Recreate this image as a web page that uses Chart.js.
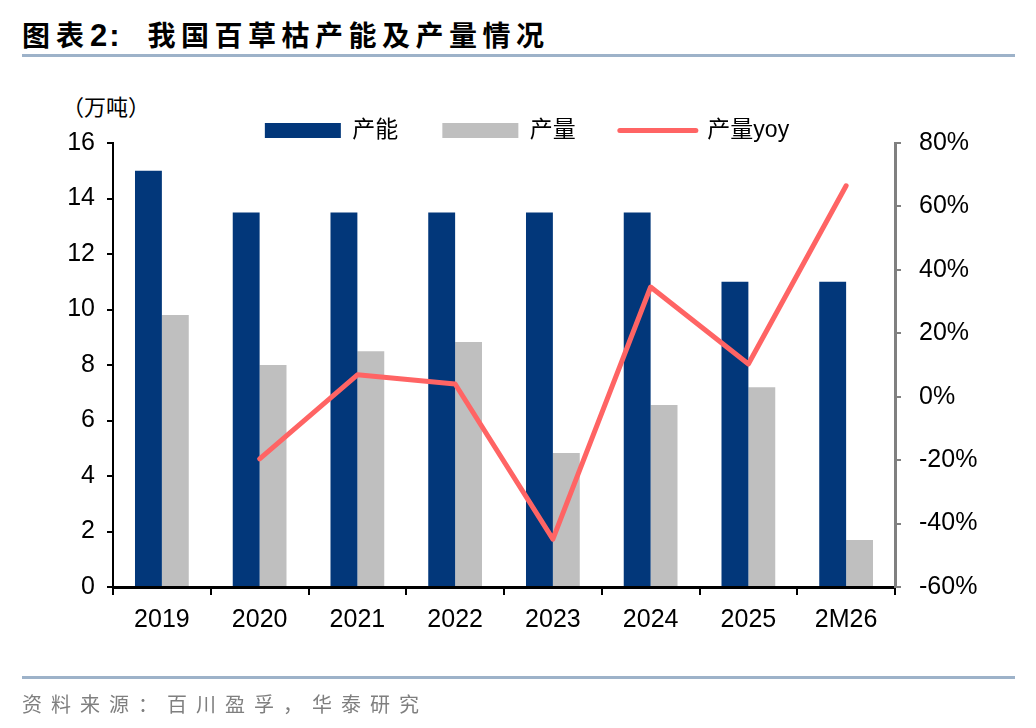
<!DOCTYPE html>
<html>
<head>
<meta charset="utf-8">
<script src="https://cdn.jsdelivr.net/npm/chart.js@4"></script>
<style>
  body { margin: 0; background: #fff; width: 1036px; height: 728px; position: relative; overflow: hidden;
         font-family: 'Liberation Sans', 'Noto Sans CJK SC', sans-serif; }
  #title { position: absolute; left: 22px; top: 14px; font-size: 28px; font-weight: bold; color: #000; white-space: pre; }
  #title .lead { letter-spacing: 6px; }
  #title .num { font-size: 31px; letter-spacing: 2px; }
  #title .main { letter-spacing: 5.5px; margin-left: 26px; }
  .rule { position: absolute; left: 22px; width: 993px; height: 3px; background: #9db2c9; }
  #unit { position: absolute; left: 62px; top: 89px; font-size: 22px; color: #000; }
  #source { position: absolute; left: 22px; top: 689px; font-size: 20px; color: #7f7f7f; letter-spacing: 9px; }
  #cpuChart { position: absolute; left: 0; top: 0; }
</style>
</head>
<body>
<div id="title"><span class="lead">图表</span><span class="num">2:</span><span class="main">我国百草枯产能及产量情况</span></div>
<div class="rule" style="top:54px"></div>
<div id="unit">（万吨）</div>
<canvas id="cpuChart" width="1036" height="728"></canvas>
<div class="rule" style="top:676px"></div>
<div id="source">资料来源：百川盈孚，华泰研究</div>
<script>
const categories = ['2019', '2020', '2021', '2022', '2023', '2024', '2025', '2M26'];
const capacity = [15, 13.5, 13.5, 13.5, 13.5, 13.5, 11, 11];
const output = [9.8, 8.0, 8.5, 8.83, 4.83, 6.56, 7.2, 1.69];
const outputYoy = [null, -19.6, 6.9, 4.0, -44.9, 34.6, 10.3, 66.5];

const FONT = "'Liberation Sans', 'Noto Sans CJK SC', sans-serif";

const ctx = document.getElementById('cpuChart').getContext('2d');
new Chart(ctx, {
  type: 'bar',
  data: {
    labels: categories,
    datasets: [
      {
        label: '产能',
        data: capacity,
        yAxisID: 'y',
        backgroundColor: '#02377a',
        barPercentage: 1,
        categoryPercentage: 0.55,
        order: 2,
      },
      {
        label: '产量',
        data: output,
        yAxisID: 'y',
        backgroundColor: '#bfbfbf',
        barPercentage: 1,
        categoryPercentage: 0.55,
        order: 2,
      },
      {
        type: 'line',
        label: '产量yoy',
        data: outputYoy,
        yAxisID: 'y1',
        borderColor: '#ff6464',
        borderWidth: 5,
        pointRadius: 0,
        borderCapStyle: 'round',
        borderJoinStyle: 'round',
        tension: 0,
        order: 1,
      },
    ],
  },
  options: {
    responsive: false,
    animation: false,
    layout: { padding: { left: 18, right: 0, top: 75, bottom: 0 } },
    plugins: {
      tooltip: { enabled: false },
      legend: {
        position: 'top',
        maxHeight: 68,
        labels: {
          usePointStyle: true,
          pointStyleWidth: 76,
          boxHeight: 15,
          padding: 44,
          color: '#000',
          font: { family: FONT, size: 23 },
          generateLabels: chart => chart.data.datasets.map((ds, i) => ({
            text: ds.label,
            datasetIndex: i,
            fontColor: '#000',
            pointStyle: ds.type === 'line' ? 'line' : 'rect',
            fillStyle: ds.type === 'line' ? ds.borderColor : ds.backgroundColor,
            strokeStyle: ds.type === 'line' ? ds.borderColor : ds.backgroundColor,
            lineWidth: ds.type === 'line' ? 5 : 0,
            lineCap: 'round',
            hidden: false,
          })),
        },
      },
    },
    scales: {
      x: {
        afterFit: s => { s.height = 141; },
        border: { color: '#000', width: 3 },
        grid: { drawOnChartArea: false, color: '#000', lineWidth: 2, tickLength: 8, offset: true },
        ticks: { color: '#000', padding: 10, font: { family: FONT, size: 25 } },
      },
      y: {
        position: 'left',
        min: 0,
        max: 16,
        afterFit: s => { s.width = 95; },
        border: { color: '#000', width: 2 },
        grid: { drawOnChartArea: false, color: '#000', lineWidth: 2, tickLength: 6 },
        ticks: { stepSize: 2, color: '#000', padding: 12, font: { family: FONT, size: 25 } },
      },
      y1: {
        position: 'right',
        min: -60,
        max: 80,
        afterFit: s => { s.width = 141; },
        border: { color: '#808080', width: 3 },
        grid: { drawOnChartArea: false, color: '#808080', lineWidth: 2, tickLength: 6 },
        ticks: {
          stepSize: 20,
          color: '#000',
          padding: 18,
          font: { family: FONT, size: 25 },
          callback: v => v + '%',
        },
      },
    },
  },
});
</script>
</body>
</html>
